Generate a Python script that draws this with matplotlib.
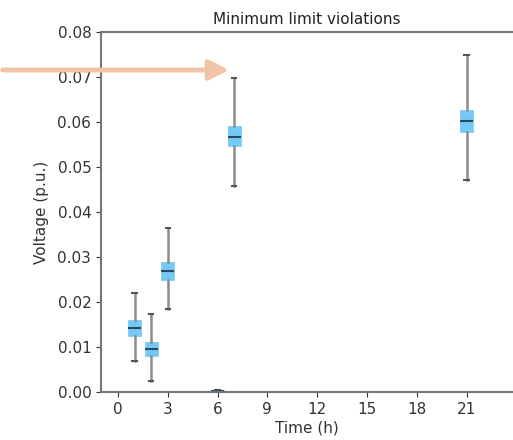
import matplotlib
matplotlib.use("Agg")
import matplotlib.pyplot as plt

# ------------------------------------------
# Data
# ------------------------------------------

hours = [1, 2, 3, 6, 7, 21]
whislo = [0.0069, 0.0024, 0.0184, 0.0000, 0.0458, 0.0471]
q1 = [0.0124, 0.0080, 0.0249, 0.0000, 0.0547, 0.0578]
med = [0.0142, 0.0096, 0.0269, 0.0002, 0.0567, 0.0602]
q3 = [0.0160, 0.0111, 0.0289, 0.0005, 0.0590, 0.0627]
whishi = [0.0220, 0.0173, 0.0364, 0.0005, 0.0698, 0.0749]

x_ticks = [0, 3, 6, 9, 12, 15, 18, 21]
y_ticks = [0.00, 0.01, 0.02, 0.03, 0.04, 0.05, 0.06, 0.07, 0.08]

stats = []
for i in range(len(hours)):
    stats.append({
        "whislo": whislo[i], "q1": q1[i], "med": med[i],
        "q3": q3[i], "whishi": whishi[i], "fliers": [],
    })

# ------------------------------------------
# Figure
# ------------------------------------------

fig = plt.figure(figsize=(5.13, 4.40), dpi=100)
ax = fig.add_axes([101 / 513, 1 - 392 / 440, 1 - 101 / 513, (392 - 32) / 440])

ax.bxp(
    stats,
    positions=hours,
    widths=0.78,
    patch_artist=True,
    showfliers=False,
    boxprops=dict(facecolor="#74c9f7", edgecolor="#74c9f7", linewidth=0.5),
    whiskerprops=dict(color="#8c8c8c", linewidth=1.8),
    capprops=dict(color="#555555", linewidth=1.5),
    medianprops=dict(color="#2a4a5e", linewidth=1.5),
    capwidths=0.25,
)

ax.set_xlim(-1.02, 23.8)
ax.set_ylim(0, 0.08)
ax.set_xticks(x_ticks)
ax.set_xticklabels([str(t) for t in x_ticks])
ax.set_yticks(y_ticks)
ax.set_yticklabels([f"{t:.2f}" for t in y_ticks])

ax.tick_params(labelsize=11, colors="#333333")
for s in ax.spines.values():
    s.set_color("#777777")
    s.set_linewidth(1.5)
ax.spines["right"].set_visible(False)

ax.set_title("Minimum limit violations", fontsize=11, color="#222222", pad=6)
ax.set_xlabel("Time (h)", fontsize=11, color="#333333", labelpad=3)
ax.set_ylabel("Voltage (p.u.)", fontsize=11, color="#333333", labelpad=6)

# annotation arrow coming in from the left edge
fig.add_artist(matplotlib.patches.FancyArrowPatch(
    (0 / 513, 1 - 70 / 440), (232 / 513, 1 - 70 / 440),
    transform=fig.transFigure,
    arrowstyle="-|>,head_length=12,head_width=6",
    color="#f0c4a4", linewidth=3.5,
))

plt.savefig("out.png", dpi=100)
